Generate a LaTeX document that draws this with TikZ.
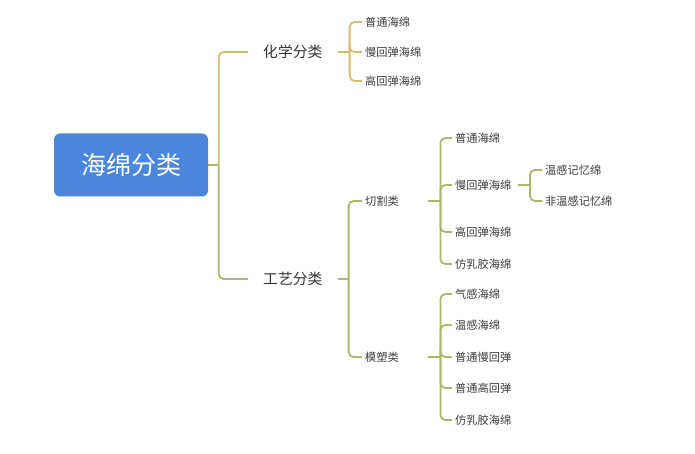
\documentclass[tikz,border=0pt]{standalone}
\usepackage{fontspec}
\newfontfamily\cjk{Noto Sans CJK SC}
\definecolor{rootblue}{HTML}{4A86DB}
\definecolor{goldline}{HTML}{D6BC6B}
\definecolor{greenline}{HTML}{A8B96B}
\definecolor{txtdark}{HTML}{333333}
\definecolor{txtleaf}{HTML}{3C3C3C}
\tikzset{
  rootbox/.style={fill=rootblue, rounded corners=6pt, minimum width=154pt, minimum height=63pt,
    text=white, font=\cjk\fontsize{25}{29}\selectfont, inner sep=0pt},
  catbox/.style={anchor=west, inner xsep=15pt, inner ysep=2pt, text=txtdark,
    font=\cjk\fontsize{14.8}{17}\selectfont},
  leafbox/.style={anchor=west, inner xsep=3pt, inner ysep=1pt, text=txtleaf,
    font=\cjk\fontsize{11.2}{13}\selectfont},
  subbox/.style={leafbox, text width=60pt, align=left},
  goldlink/.style={draw=goldline, line width=1.8pt, rounded corners=5pt},
  greenlink/.style={draw=greenline, line width=1.8pt, rounded corners=5pt},
  stublink/.style={draw=greenline, line width=2pt},
}
\begin{document}
\begin{tikzpicture}[x=1pt,y=-1pt]
\useasboundingbox (0,0) rectangle (695,454);
% root
\node[rootbox] (root) at (131,165) {海绵分类};
% categories
\node[catbox] (chem) at (248,52) {化学分类};
\node[catbox] (craft) at (248,279) {工艺分类};
% chem leaves
\node[leafbox] (c1) at (362,22) {普通海绵};
\node[leafbox] (c2) at (362,52) {慢回弹海绵};
\node[leafbox] (c3) at (362,81) {高回弹海绵};
% craft sub
\node[subbox] (cut) at (362,201) {切割类};
\node[subbox] (mold) at (362,357) {模塑类};
% cut leaves
\node[leafbox] (k1) at (452,138) {普通海绵};
\node[leafbox] (k2) at (452,185) {慢回弹海绵};
\node[leafbox] (k3) at (452,232) {高回弹海绵};
\node[leafbox] (k4) at (452,264) {仿乳胶海绵};
% slow children
\node[leafbox] (s1) at (542,170) {温感记忆绵};
\node[leafbox] (s2) at (542,201) {非温感记忆绵};
% mold leaves
\node[leafbox] (m1) at (452,294) {气感海绵};
\node[leafbox] (m2) at (452,325) {温感海绵};
\node[leafbox] (m3) at (452,357) {普通慢回弹};
\node[leafbox] (m4) at (452,388) {普通高回弹};
\node[leafbox] (m5) at (452,420) {仿乳胶海绵};
% links: root
\coordinate (jr) at ([xshift=10.5pt]root.east);
\draw[goldlink] (jr) |- (chem.west);
\draw[greenlink] (jr) |- (craft.west);
\draw[stublink] (root.east) -- (jr);
% chem
\draw[goldlink] (chem.east) -- ++(12,0) coordinate (jc);
\foreach \c in {c1,c2,c3}
  \draw[goldlink] (jc) |- (\c.west);
% craft
\draw[greenlink] (craft.east) -- ++(11,0) coordinate (jf);
\foreach \c in {cut,mold}
  \draw[greenlink] (jf) |- (\c.west);
% cut
\draw[greenlink] (cut.east) -- ++(12,0) coordinate (jk);
\foreach \c in {k1,k2,k3,k4}
  \draw[greenlink] (jk) |- (\c.west);
% slow
\draw[greenlink] (k2.east) ++(3.5,0) -- ++(12,0) coordinate (js);
\foreach \c in {s1,s2}
  \draw[greenlink] (js) |- (\c.west);
% mold
\draw[greenlink] (mold.east) -- ++(12,0) coordinate (jm);
\foreach \c in {m1,m2,m3,m4,m5}
  \draw[greenlink] (jm) |- (\c.west);
\end{tikzpicture}
\end{document}
